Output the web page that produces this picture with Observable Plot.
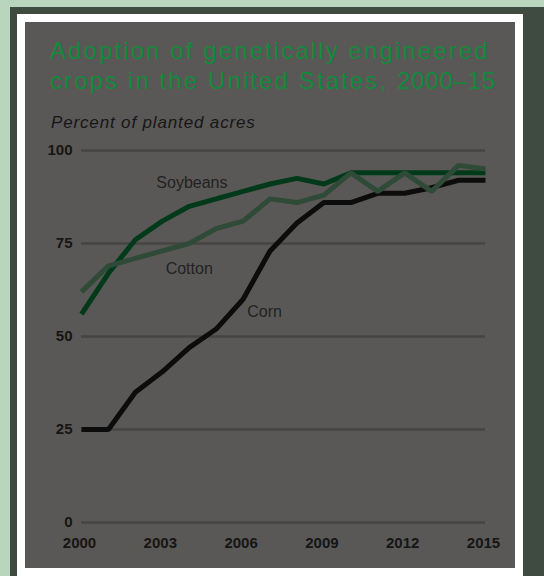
<!DOCTYPE html>
<html><head><meta charset="utf-8">
<script src="https://cdn.jsdelivr.net/npm/d3@7"></script>
<script src="https://cdn.jsdelivr.net/npm/@observablehq/plot@0.6"></script>
<style>
html,body{margin:0;padding:0;width:544px;height:576px;overflow:hidden;background:#b9d5bd;}
#dark{position:absolute;left:10px;top:7px;width:534px;height:569px;background:#3f4a40;}
#white{position:absolute;left:17px;top:14px;width:506px;height:562px;background:#ffffff;}
#panel{position:absolute;left:25px;top:22px;width:490px;height:546px;background:#5a5856;}
#title{position:absolute;left:25px;top:14px;margin:0;font-family:"Liberation Sans",Arial,sans-serif;font-weight:normal;font-size:24px;letter-spacing:2.1px;line-height:30px;color:#128a3c;white-space:nowrap;}
#title .yr{letter-spacing:0.8px;}
#sub{position:absolute;left:26px;top:90.5px;font-family:"Liberation Sans",Arial,sans-serif;font-style:italic;font-size:17px;letter-spacing:0.85px;color:#161616;white-space:nowrap;}
#chart{position:absolute;left:0;top:118px;}
</style></head>
<body>
<div id="dark"></div>
<div id="white"></div>
<div id="panel">
  <div id="title">Adoption of genetically engineered<br>crops in the United States, <span class="yr">2000–15</span></div>
  <div id="sub">Percent of planted acres</div>
  <div id="chart"></div>
</div>
<script>
const years = [2000,2001,2002,2003,2004,2005,2006,2007,2008,2009,2010,2011,2012,2013,2014,2015];
const soybeans = [56,67,76,81,85,87,89,91,92.5,91,94,94,94,94,94,94];
const cotton   = [62,69,71,73,75,79,81,87,86,88,94,89,94,89,96,95];
const corn     = [25,25,35,40.5,47,52,60,73,80.5,86,86,88.5,88.5,90,92,92];
const yTicks = [0,25,50,75,100];
const xTicks = [2000,2003,2006,2009,2012,2015];
const labelNames = ["Soybeans","Cotton","Corn"];
const labelYears = [2004.1,2004.0,2006.8];
const labelValues = [91.4,68.3,56.7];

const seriesOrder = [["Soybeans",soybeans,"#013a1a"],["Corn",corn,"#0c0c0c"],["Cotton",cotton,"#2f4a37"]];
const lineMarks = seriesOrder.map(([name,vals,color]) =>
  Plot.line(years.map((y,i)=>({year:y,value:vals[i]})),{x:"year",y:"value",stroke:color,strokeWidth:5,strokeLinejoin:"miter",strokeLinecap:"butt"})
);
const labels = labelNames.map((n,i)=>({name:n,year:labelYears[i],value:labelValues[i]}));

const chart = Plot.plot({
  width:490, height:420,
  marginLeft:56, marginRight:30, marginTop:10, marginBottom:38,
  style:{background:"transparent",overflow:"visible"},
  x:{domain:[2000,2015],ticks:xTicks,tickFormat:d=>String(d)},
  y:{domain:[0,100],ticks:yTicks},
  marks:[
    Plot.gridY(yTicks,{stroke:"#474543",strokeOpacity:1,strokeWidth:2.5}),
    Plot.axisY({ticks:yTicks,tickSize:0,tickPadding:9,fontSize:15,fontWeight:"bold",fill:"#151515",
      fontFamily:"'Liberation Sans Narrow','Liberation Sans',Arial,sans-serif",label:null}),
    Plot.axisX({ticks:xTicks,tickSize:0,tickPadding:15,fontSize:15,fontWeight:"bold",fill:"#151515",
      fontFamily:"'Liberation Sans Narrow','Liberation Sans',Arial,sans-serif",label:null,tickFormat:d=>String(d),dx:-2}),
    ...lineMarks,
    Plot.text(labels,{x:"year",y:"value",text:"name",fill:"#222",fontSize:16,letterSpacing:0.3,
      fontFamily:"'Liberation Sans',Arial,sans-serif",textAnchor:"middle"})
  ]
});
document.getElementById("chart").appendChild(chart);
</script>
</body></html>
